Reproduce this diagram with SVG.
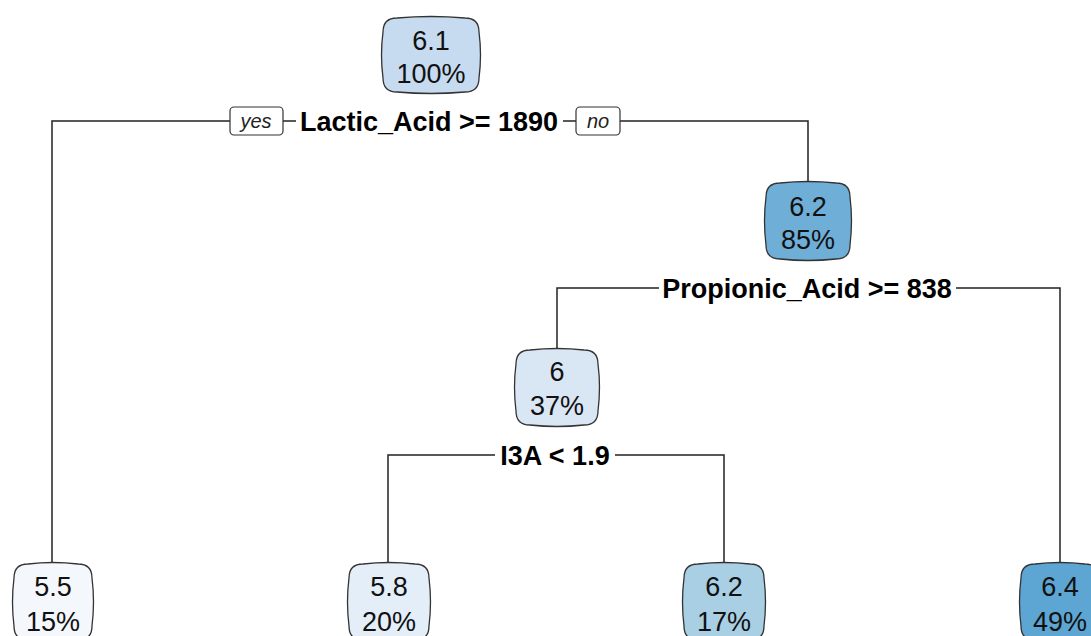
<svg xmlns="http://www.w3.org/2000/svg" width="1091" height="636" viewBox="0 0 1091 636">
<style>
.bg{fill:#ffffff}
.node{stroke:#333333;stroke-width:1.3}
.edge{fill:none;stroke:#222222;stroke-width:1.5}
.nt{font-family:"Liberation Sans",Arial,sans-serif;font-size:27px;fill:#111111;text-anchor:middle}
.split{font-family:"Liberation Sans",Arial,sans-serif;font-size:27px;font-weight:bold;fill:#000000;text-anchor:middle}
.yn{font-family:"Liberation Sans",Arial,sans-serif;font-size:20px;font-style:italic;fill:#222222;text-anchor:middle}
.ynbox{fill:#ffffff;stroke:#333333;stroke-width:1.2}
</style>
<rect class="bg" x="0" y="0" width="1091" height="636"/>
<g id="connectors">
<path class="edge" d="M52,564 V121 H230"/>
<path class="edge" d="M283,121 H296"/>
<path class="edge" d="M563,121 H576"/>
<path class="edge" d="M620,121 H808 V183"/>
<path class="edge" d="M557,350 V288 H659"/>
<path class="edge" d="M956,288 H1060 V564"/>
<path class="edge" d="M388,564 V455 H495"/>
<path class="edge" d="M615,455 H724 V564"/>
</g>
<g id="split-labels">
<text class="split" x="429" y="131">Lactic_Acid &gt;= 1890</text>
<text class="split" x="807" y="298">Propionic_Acid &gt;= 838</text>
<text class="split" x="555" y="465">I3A &lt; 1.9</text>
</g>
<g id="yes">
<rect class="ynbox" x="230" y="107" width="53" height="28" rx="4"/>
<text class="yn" x="256" y="128">yes</text>
</g>
<g id="no">
<rect class="ynbox" x="576" y="107" width="44" height="28" rx="4"/>
<text class="yn" x="598" y="128">no</text>
</g>
<g id="node-root">
<path class="node" fill="#c6dbef" d="M397,18 Q431,15 465,18 Q479,18 479,32 Q482,55 479,78 Q479,92 465,92 Q431,95 397,92 Q383,92 383,78 Q380,55 383,32 Q383,18 397,18 Z"/>
<text class="nt" x="431" y="50">6.1</text>
<text class="nt" x="431" y="83">100%</text>
</g>
<g id="node-85">
<path class="node" fill="#6eaed7" d="M780,183 Q808,180 836,183 Q850,183 850,197 Q853,221 850,245 Q850,259 836,259 Q808,262 780,259 Q766,259 766,245 Q763,221 766,197 Q766,183 780,183 Z"/>
<text class="nt" x="808" y="216">6.2</text>
<text class="nt" x="808" y="249">85%</text>
</g>
<g id="node-37">
<path class="node" fill="#d9e7f5" d="M530,350 Q557,347 584,350 Q598,350 598,364 Q601,387 598,411 Q598,425 584,425 Q557,428 530,425 Q516,425 516,411 Q513,387 516,364 Q516,350 530,350 Z"/>
<text class="nt" x="557" y="381">6</text>
<text class="nt" x="557" y="415">37%</text>
</g>
<g id="leaf-15">
<path class="node" fill="#f4f8fd" d="M28,564 Q53,561 78,564 Q92,564 92,578 Q95,602 92,626 Q92,640 78,640 Q53,643 28,640 Q14,640 14,626 Q11,602 14,578 Q14,564 28,564 Z"/>
<text class="nt" x="53" y="596">5.5</text>
<text class="nt" x="53" y="631">15%</text>
</g>
<g id="leaf-20">
<path class="node" fill="#e3eef8" d="M363,564 Q389,561 415,564 Q429,564 429,578 Q432,602 429,626 Q429,640 415,640 Q389,643 363,640 Q349,640 349,626 Q346,602 349,578 Q349,564 363,564 Z"/>
<text class="nt" x="389" y="596">5.8</text>
<text class="nt" x="389" y="631">20%</text>
</g>
<g id="leaf-17">
<path class="node" fill="#a9cfe5" d="M698,564 Q724,561 750,564 Q764,564 764,578 Q767,602 764,626 Q764,640 750,640 Q724,643 698,640 Q684,640 684,626 Q681,602 684,578 Q684,564 698,564 Z"/>
<text class="nt" x="724" y="596">6.2</text>
<text class="nt" x="724" y="631">17%</text>
</g>
<g id="leaf-49">
<path class="node" fill="#5da5d2" d="M1035,564 Q1060,561 1085,564 Q1099,564 1099,578 Q1102,602 1099,626 Q1099,640 1085,640 Q1060,643 1035,640 Q1021,640 1021,626 Q1018,602 1021,578 Q1021,564 1035,564 Z"/>
<text class="nt" x="1060" y="596">6.4</text>
<text class="nt" x="1060" y="631">49%</text>
</g>
</svg>
